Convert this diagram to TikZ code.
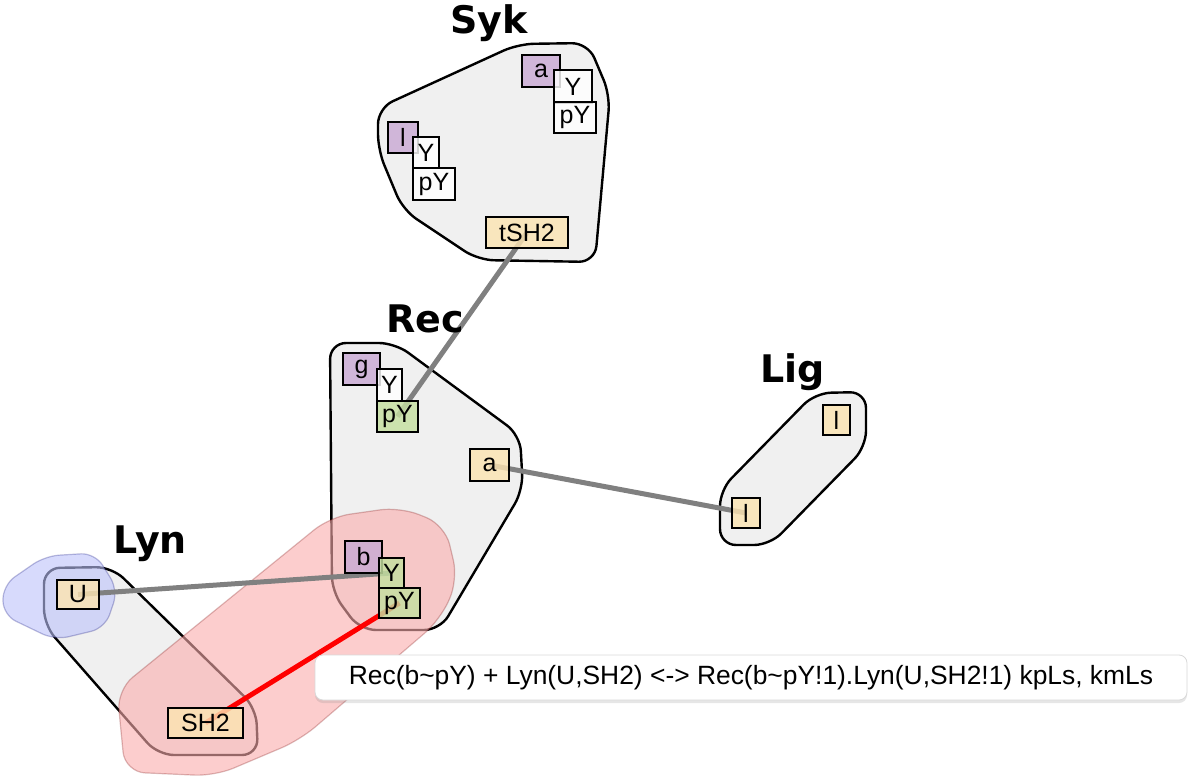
\documentclass[tikz,border=0pt]{standalone}
\usepackage{fontspec}
\setmainfont{Liberation Sans}
\newfontfamily\titlefont{DejaVu Sans}
\usetikzlibrary{shadows}
\definecolor{hullfill}{RGB}{240,240,240}
\definecolor{purp}{RGB}{201,170,212}
\definecolor{yel}{RGB}{252,228,178}
\definecolor{grn}{RGB}{197,224,160}
\definecolor{conngray}{RGB}{128,128,128}
\definecolor{blobred}{RGB}{250,172,172}
\definecolor{blobblue}{RGB}{188,194,250}
\pgfdeclarelayer{hulls}
\pgfdeclarelayer{blobs}
\pgfdeclarelayer{conns}
\pgfsetlayers{hulls,blobs,conns,main}
\newcommand\mybx[8][]{\node[box,fill=#7,#1,minimum width={0.5pt*(#4-#2)},minimum height={0.5pt*(#5-#3)}] (#6) at ({(#2+#4)/2},{(#3+#5)/2}) {#8};}
\begin{document}
\begin{tikzpicture}[x=0.5pt,y=-0.5pt,
  hull/.style={draw=black, line width=1.2pt, fill=hullfill, rounded corners=8pt},
  box/.style={draw=black, line width=0.7pt, inner sep=0pt, font=\fontsize{12.5}{13}\selectfont, fill opacity=0.82, text opacity=1},
  title/.style={font=\titlefont\bfseries\fontsize{19}{20}\selectfont, anchor=base west, inner sep=0pt},
  conn/.style={line width=2.5pt, draw=conngray},
  bond/.style={line width=2.5pt, draw=red},
  redblob/.style={fill=blobred, fill opacity=0.6, draw=red!45!black, draw opacity=0.25, line width=0.6pt, rounded corners=10pt},
  blueblob/.style={fill=blobblue, fill opacity=0.6, draw=blue!45!black, draw opacity=0.25, line width=0.6pt, rounded corners=7pt},
  tip/.style={fill=white, draw=black!15, line width=0.4pt, rounded corners=4pt, minimum width=436pt, minimum height=22.5pt, inner sep=0pt, font=\fontsize{13.2}{15}\selectfont, drop shadow={opacity=0.2, shadow xshift=0pt, shadow yshift=-1.5pt}}
]
\useasboundingbox (0,0) rectangle (1200,776);

\begin{pgfonlayer}{hulls}
\draw[hull] (378,108) -- (518,44) -- (588,43) -- (610,95) -- (595,262) -- (478,260) -- (403,210) -- (378,150) -- cycle;
\draw[hull] (330,343) -- (395,343) -- (520,435) -- (523,490) -- (440,630) -- (360,630) -- (332,592) -- cycle;
\draw[hull] (720,490) -- (815,393) -- (866,392) -- (866,447) -- (770,545) -- (720,545) -- cycle;
\draw[hull] (44,568) -- (112,567) -- (256,708) -- (258,755) -- (158,755) -- (44,625) -- cycle;
\end{pgfonlayer}

\begin{pgfonlayer}{blobs}
\draw[blueblob] (3,585) -- (45,556) -- (95,553) -- (118,590) -- (105,628) -- (55,640) -- (3,615) -- cycle;
\draw[redblob] (117,690) -- (330,517) -- (400,507) -- (445,525) -- (458,580) -- (440,620) -- (300,740) -- (215,776) -- (125,772) -- cycle;
\end{pgfonlayer}

% titles
\node[title] (tSyk) at (450,33) {Syk};
\node[title] (tRec) at (386,332) {Rec};
\node[title] (tLig) at (760,382) {Lig};
\node[title] (tLyn) at (113,553) {Lyn};

% Syk sites
\mybx{522}{55}{560}{87}{sa}{purp}{a}
\mybx{554}{70}{592}{103}{saY}{white}{Y}
\mybx{554}{102}{596}{133}{sapY}{white}{pY}
\mybx{388}{122}{418}{153}{sl}{purp}{l}
\mybx{413}{137}{439}{168}{slY}{white}{Y}
\mybx{413}{168}{455}{200}{slpY}{white}{pY}
\mybx{486}{217}{568}{248}{stSH}{yel}{tSH2}

% Rec sites
\mybx{343}{353}{380}{385}{rg}{purp}{g}
\mybx{377}{369}{402}{401}{rgY}{white}{Y}
\mybx{377}{401}{418}{432}{rgpY}{grn}{pY}
\mybx{470}{449}{509}{481}{ra}{yel}{a}
\mybx{345}{541}{382}{573}{rb}{purp}{b}
\mybx{379}{558}{404}{588}{rbY}{grn}{Y}
\mybx{379}{588}{420}{618}{rbpY}{grn}{pY}

% Lig sites
\mybx{823}{405}{850}{435}{gl1}{yel}{l}
\mybx{732}{498}{760}{528}{gl2}{yel}{l}

% Lyn sites
\mybx{57}{580}{99}{609}{lU}{yel}{U}
\mybx{168}{708}{243}{738}{lSH}{yel}{SH2}

\begin{pgfonlayer}{conns}
\draw[conn] (stSH.center) -- (rgpY.center);
\draw[conn] (ra.center) -- (gl2.center);
\draw[conn] (lU.center) -- (rbY.center);
\draw[bond] (lSH.center) -- (rbpY.center);
\end{pgfonlayer}

% tooltip
\node[tip] (eq) at (751,677.5) {Rec(b\textasciitilde pY) + Lyn(U,SH2) <-> Rec(b\textasciitilde pY!1).Lyn(U,SH2!1) kpLs, kmLs};
\end{tikzpicture}
\end{document}
